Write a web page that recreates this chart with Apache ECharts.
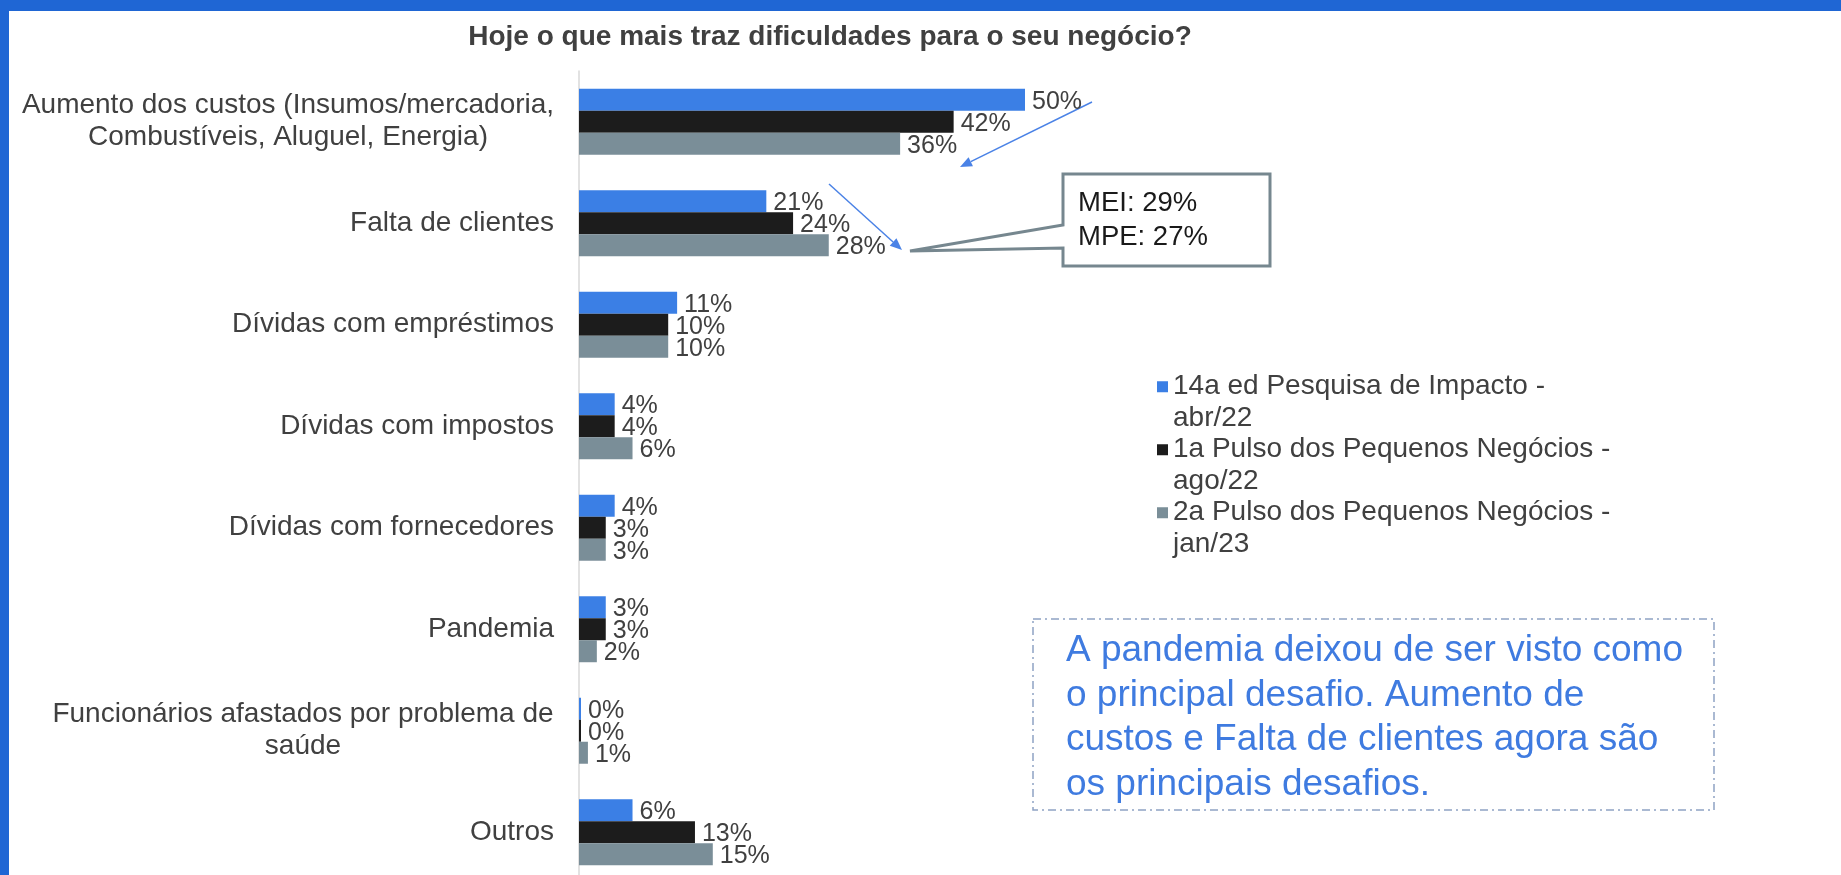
<!DOCTYPE html>
<html>
<head>
<meta charset="utf-8">
<script src="https://cdn.jsdelivr.net/npm/echarts@6/dist/echarts.min.js"></script>
<style>
  html, body { margin: 0; padding: 0; background: #fff; }
  #chart { width: 1841px; height: 875px; }
</style>
</head>
<body>
<div id="chart"></div>
<script>
const FONT = '"Liberation Sans", Arial, sans-serif'
const TEXT_COLOR = '#404040'

// categorias (de cima para baixo)
const categories = [
  'Aumento dos custos (Insumos/mercadoria,\nCombustíveis, Aluguel, Energia)',
  'Falta de clientes',
  'Dívidas com empréstimos',
  'Dívidas com impostos',
  'Dívidas com fornecedores',
  'Pandemia',
  'Funcionários afastados por problema de\nsaúde',
  'Outros'
]

const seriesNames = [
  '14a ed Pesquisa de Impacto - abr/22',
  '1a Pulso dos Pequenos Negócios - ago/22',
  '2a Pulso dos Pequenos Negócios - jan/23'
]

// valores em %
const impactoAbr22 = [50, 21, 11, 4, 4, 3, 0, 6]
const pulsoAgo22 = [42, 24, 10, 4, 3, 3, 0, 13]
const pulsoJan23 = [36, 28, 10, 6, 3, 2, 1, 15]

const colors = ['#3b7fe5', '#1c1c1c', '#7a8e98']

const chart = echarts.init(document.getElementById('chart'))

// seta azul (linha + ponta)
function arrow(x1, y1, x2, y2, color) {
  const ang = Math.atan2(y2 - y1, x2 - x1)
  const len = 12
  const w = 5
  const bx = x2 - len * Math.cos(ang)
  const by = y2 - len * Math.sin(ang)
  const px = -Math.sin(ang) * w
  const py = Math.cos(ang) * w
  return {
    type: 'group',
    children: [
      {
        type: 'line',
        shape: { x1, y1, x2: bx, y2: by },
        style: { stroke: color, lineWidth: 1.5 }
      },
      {
        type: 'polygon',
        shape: { points: [[x2, y2], [bx + px, by + py], [bx - px, by - py]] },
        style: { fill: color }
      }
    ]
  }
}

function labelFormatter(value) {
  if (value === categories[0]) return '{w1|' + value + '}'
  if (value === categories[6]) return '{w2|' + value + '}'
  return value
}

// marcador quadrado alinhado com a primeira linha do texto da legenda
const legendIcon = 'path://M0,10.25H11V21.25H0Z M0,0H0.01V0.01H0Z M0,62.99H0.01V63H0Z'

const option = {
  backgroundColor: '#ffffff',
  animation: false,
  color: colors,
  title: {
    text: 'Hoje o que mais traz dificuldades para o seu negócio?',
    left: 830,
    top: 23,
    padding: 0,
    textAlign: 'center',
    textStyle: { fontFamily: FONT, fontSize: 28, fontWeight: 'bold', color: TEXT_COLOR }
  },
  legend: {
    orient: 'vertical',
    left: 1157,
    top: 371,
    padding: 0,
    icon: legendIcon,
    itemWidth: 11,
    itemHeight: 63,
    itemGap: 0,
    formatter: name => name.replace(' - ', ' -\n'),
    textStyle: {
      fontFamily: FONT,
      fontSize: 28,
      lineHeight: 31.5,
      color: TEXT_COLOR
    }
  },
  grid: { left: 579, top: 71, width: 892, height: 812, outerBoundsMode: 'none', containLabel: false },
  xAxis: {
    type: 'value',
    min: 0,
    max: 100,
    show: false
  },
  yAxis: {
    type: 'category',
    inverse: true,
    data: categories,
    axisLine: { show: true, lineStyle: { color: '#d9d9d9', width: 1.5 } },
    axisTick: { show: false },
    axisLabel: {
      margin: 25,
      fontFamily: FONT,
      fontSize: 28,
      lineHeight: 32,
      color: TEXT_COLOR,
      formatter: labelFormatter,
      rich: {
        w1: { width: 532, align: 'center', fontFamily: FONT, fontSize: 28, lineHeight: 32, color: TEXT_COLOR },
        w2: { width: 502, align: 'center', fontFamily: FONT, fontSize: 28, lineHeight: 32, color: TEXT_COLOR }
      }
    }
  },
  series: [impactoAbr22, pulsoAgo22, pulsoJan23].map((data, i) => ({
    name: seriesNames[i],
    type: 'bar',
    data: data,
    barGap: '0%',
    barCategoryGap: '35%',
    barMinHeight: 2,
    label: {
      show: true,
      position: 'right',
      distance: 7,
      offset: [0, 2],
      formatter: '{c}%',
      fontFamily: FONT,
      fontSize: 25,
      color: TEXT_COLOR
    }
  })),
  graphic: [
    // moldura azul
    { type: 'rect', shape: { x: 0, y: 0, width: 1841, height: 11 }, style: { fill: '#1f66d4' }, z: 100 },
    { type: 'rect', shape: { x: 0, y: 0, width: 9, height: 875 }, style: { fill: '#1f66d4' }, z: 100 },
    arrow(1092, 102, 960, 167, '#4a82e6'),
    arrow(829, 184, 902, 250, '#4a82e6'),
    // balão MEI / MPE
    {
      type: 'polygon',
      shape: {
        points: [[1063, 174], [1270, 174], [1270, 266], [1063, 266], [1063, 248], [910, 251], [1063, 225]]
      },
      style: { fill: '#ffffff', stroke: '#76878f', lineWidth: 3 },
      z: 50
    },
    {
      type: 'text',
      x: 1078,
      y: 186,
      style: {
        text: 'MEI: 29%\nMPE: 27%',
        fontFamily: FONT,
        fontSize: 27.5,
        lineHeight: 34,
        fill: '#1a1a1a'
      },
      z: 51
    },
    // caixa de comentário
    {
      type: 'rect',
      shape: { x: 1033, y: 619, width: 681, height: 191 },
      style: { fill: 'none', stroke: '#8ea2c4', lineWidth: 1.5, lineDash: [8, 4, 2, 4] }
    },
    {
      type: 'text',
      x: 1066,
      y: 629,
      style: {
        text: 'A pandemia deixou de ser visto como\no principal desafio. Aumento de\ncustos e Falta de clientes agora são\nos principais desafios.',
        fontFamily: FONT,
        fontSize: 37,
        lineHeight: 44.5,
        fill: '#3f7be0'
      }
    }
  ]
}

chart.setOption(option)
</script>
</body>
</html>
